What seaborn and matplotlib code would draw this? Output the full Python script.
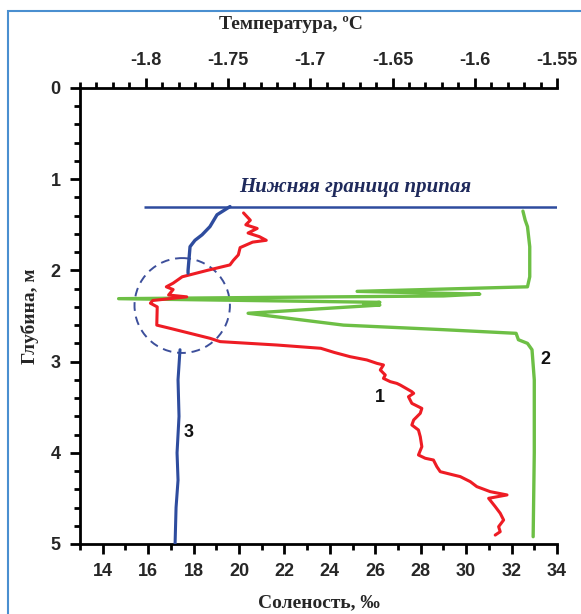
import numpy as np
import pandas as pd
import matplotlib
matplotlib.use("Agg")
import matplotlib.pyplot as plt
from matplotlib.patches import Ellipse, Rectangle
import seaborn as sns

# profile 1: salinity (red)
sal1_depth = [1.37, 1.45, 1.50, 1.54, 1.59, 1.63, 1.67, 1.69, 1.75, 1.83, 1.89, 1.94, 2.00,
              2.07, 2.14, 2.18, 2.21, 2.27, 2.29, 2.33, 2.36, 2.40, 2.60, 2.635, 2.745, 2.781,
              2.818, 2.854, 2.90, 2.946, 2.982, 3.019, 3.037, 3.092, 3.147, 3.184,
              3.220, 3.239, 3.257, 3.330, 3.348, 3.385, 3.458, 3.513, 3.567, 3.640, 3.695,
              3.750, 3.823, 3.933, 4.024, 4.060, 4.079, 4.152, 4.207, 4.243, 4.261, 4.316,
              4.371, 4.426, 4.462, 4.499, 4.590, 4.663, 4.737, 4.810, 4.865, 4.902]
sal1_value = [20.2, 20.5, 20.3, 20.8, 20.4, 20.9, 21.2, 20.6, 20.05, 19.97, 19.75, 19.6, 18.6,
              17.5, 17.1, 16.8, 17.1, 16.9, 17.7, 16.2, 16.1, 16.4, 16.38, 16.96, 18.73, 19.17,
              21.66, 23.6, 24.2, 24.89, 25.63, 26.07, 26.36, 26.22, 26.44, 26.36,
              26.66, 26.95, 27.10, 27.61, 27.69, 27.46, 27.61, 28.05, 27.98, 27.69, 27.61,
              27.90, 27.98, 28.05, 27.90, 28.20, 28.56, 28.71, 28.86, 29.44, 29.74, 30.18,
              30.47, 31.06, 31.80, 30.99, 31.28, 31.50, 31.65, 31.43, 31.50, 31.28]

# profile 2: salinity (green)
sal2_depth = [1.35, 1.45, 1.52, 1.74, 2.07, 2.18, 2.23, 2.26, 2.28, 2.31, 2.35, 2.37, 2.38,
              2.47, 2.60, 2.65, 2.69, 2.76, 2.80, 2.87, 3.20, 4.00, 4.92]
sal2_value = [32.5, 32.6, 32.7, 32.8, 32.8, 32.7, 25.2, 30.6, 29.0, 14.7, 26.2, 25.5, 26.2,
              20.4, 24.6, 29.0, 32.2, 32.3, 32.7, 32.9, 33.0, 33.0, 32.95]

# profile 3: temperature (blue), upper and lower parts
temp_top_depth = [1.30, 1.39, 1.52, 1.61, 1.67, 1.74, 2.00, 2.03]
temp_top_value = [-1.7488, -1.7567, -1.7610, -1.7658, -1.7701, -1.7731, -1.7743, -1.7743]
temp_bot_depth = [2.87, 3.20, 3.60, 4.00, 4.30, 4.60, 5.00]
temp_bot_value = [-1.7792, -1.7804, -1.7798, -1.7810, -1.7804, -1.7816, -1.7822]

ice_depth = 1.3
ice_sal_range = [15.8, 34]
ice_label = "Нижняя граница припая"

circle_center = (17.5, 2.385)
circle_size = (4.2, 1.04)

sal_ticks = list(range(14, 35, 2))
temp_ticks = [-1.8, -1.75, -1.7, -1.65, -1.6, -1.55]
temp_labels = ["-1.8", "-1.75", "-1.7", "-1.65", "-1.6", "-1.55"]
depth_ticks = [0, 1, 2, 3, 4, 5]

sns.set_style("ticks")
plt.rcParams['font.family'] = ['Liberation Sans', 'DejaVu Sans']

red = "#ee1c24"
green = "#6dbf45"
blue = "#2e4c9e"
navy = "#1f2a5c"

fig = plt.figure(figsize=(5.81, 6.14), dpi=100)
fig.patches.append(Rectangle((8 / 581, -0.1), 1.2, 1 - 11 / 614 + 0.1, transform=fig.transFigure,
                             fill=False, edgecolor="#4a8fd0", lw=1.5))
ax = fig.add_axes([80 / 581, 1 - 544 / 614, 477 / 581, 456 / 614])
ax.patch.set_alpha(0)
ax2 = ax.twiny()

df1 = pd.DataFrame({"s": sal1_value, "d": sal1_depth})
df2 = pd.DataFrame({"s": sal2_value, "d": sal2_depth})
sns.lineplot(data=df2, x="s", y="d", sort=False, estimator=None, color=green, lw=2.4, ax=ax)
sns.lineplot(data=df1, x="s", y="d", sort=False, estimator=None, color=red, lw=2.2, ax=ax)
sns.lineplot(x=temp_top_value, y=temp_top_depth, sort=False, estimator=None, color=blue, lw=2.4, ax=ax2)
sns.lineplot(x=temp_bot_value, y=temp_bot_depth, sort=False, estimator=None, color=blue, lw=2.2, ax=ax2)

ax.hlines(ice_depth, ice_sal_range[0], ice_sal_range[1], color=blue, lw=1.8, zorder=5)
ax.text(25.1, 1.09, ice_label, ha="center", va="center", fontsize=15, color=navy,
        family="Liberation Serif", style="italic", weight="bold")
ax.add_patch(Ellipse(circle_center, circle_size[0], circle_size[1], fill=False,
                     edgecolor="#3d4f9b", lw=1.4, ls=(0, (4.5, 3))))

for lab, xs, yd in [("1", 26.2, 3.39), ("2", 33.5, 2.98), ("3", 17.8, 3.78)]:
    ax.text(xs, yd, lab, ha="center", va="center", fontsize=13, weight="bold", color="#111111")

ax.set_xlim(13, 34)
ax.set_ylim(5, 0)
ax2.set_xlim(-1.84, -1.55)

ax.set_xticks(sal_ticks)
ax.set_xticks(np.arange(13, 34.5, 1), minor=True)
ax.set_yticks(depth_ticks)
ax.set_yticks(np.arange(0, 5.01, 0.2), minor=True)
ax2.set_xticks(temp_ticks)
ax2.set_xticklabels(temp_labels)
ax2.set_xticks(np.arange(-1.84, -1.549, 0.01), minor=True)

for a in (ax, ax2):
    a.tick_params(which="major", length=7, width=2, labelsize=13, pad=7, color="black")
    a.tick_params(which="minor", length=4.5, width=2, color="black")
    for t in a.get_xticklabels() + a.get_yticklabels():
        t.set_fontweight("bold")
ax2.tick_params(axis="x", which="both", top=True, bottom=False, labeltop=True, labelbottom=False)

for side in ["top", "right"]:
    ax.spines[side].set_visible(False)
for side in ["left", "right", "bottom"]:
    ax2.spines[side].set_visible(False)
ax.spines["left"].set_linewidth(2)
ax.spines["bottom"].set_linewidth(2)
ax2.spines["top"].set_linewidth(2)
ax.spines["left"].set_color("black")
ax.spines["bottom"].set_color("black")
ax2.spines["top"].set_color("black")

lab_font = dict(family="Liberation Serif", weight="bold", fontsize=14)
ax.set_xlabel("Соленость, ‰", labelpad=10, **lab_font)
ax.set_ylabel("Глубина, м", labelpad=8, **lab_font)
ax2.set_xlabel("Температура, ºС", labelpad=8, **lab_font)
ax2.xaxis.set_label_coords(0.442, 1.13)

fig.savefig("out.png", dpi=100, facecolor="white")
